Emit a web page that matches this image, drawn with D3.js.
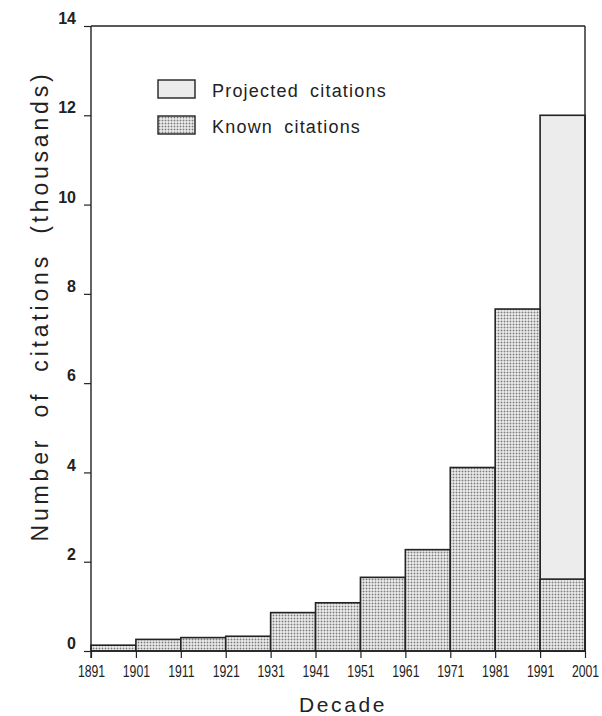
<!DOCTYPE html>
<html><head><meta charset="utf-8">
<script src="https://cdn.jsdelivr.net/npm/d3@7"></script>
<style>
html,body{margin:0;padding:0;background:#fff;}
svg{display:block;}
</style></head>
<body>
<script>
// Data
const decadeStarts = [1891,1901,1911,1921,1931,1941,1951,1961,1971,1981,1991];
const tickYears = [1891,1901,1911,1921,1931,1941,1951,1961,1971,1981,1991,2001];
const knownCitations = [0.13,0.26,0.30,0.33,0.86,1.08,1.65,2.27,4.11,7.66,1.61];
const projectedCitations = [null,null,null,null,null,null,null,null,null,null,12.0];
const yTicks = [0,2,4,6,8,10,12,14];
const legendLabels = ["Projected citations","Known citations"];

const W = 602, H = 716;
const m = {left:91, right:17, top:26, bottom:65};
const svg = d3.select("body").append("svg").attr("width",W).attr("height",H);

const defs = svg.append("defs");
const pat = defs.append("pattern").attr("id","dots").attr("patternUnits","userSpaceOnUse")
  .attr("width",3).attr("height",3);
pat.append("rect").attr("width",3).attr("height",3).attr("fill","#c4c4c4");
pat.append("rect").attr("x",1).attr("y",1).attr("width",2).attr("height",2).attr("fill","#e6e6e6");
pat.append("rect").attr("x",0).attr("y",0).attr("width",1).attr("height",1).attr("fill","#7a7a7a");

const x = d3.scaleLinear().domain([1891,2001]).range([m.left, W-m.right]);
const y = d3.scaleLinear().domain([0,14]).range([H-m.bottom, m.top]);

const g = svg.append("g");

g.selectAll("rect.proj").data(decadeStarts.map((d,i)=>({d,v:projectedCitations[i]})).filter(o=>o.v!=null))
 .enter().append("rect").attr("class","proj")
 .attr("x",o=>x(o.d)).attr("width",o=>x(o.d+10)-x(o.d))
 .attr("y",o=>y(o.v)).attr("height",o=>y(0)-y(o.v))
 .attr("fill","#ececec").attr("stroke","#222").attr("stroke-width",1.6);

g.selectAll("rect.known").data(decadeStarts.map((d,i)=>({d,v:knownCitations[i]})))
 .enter().append("rect").attr("class","known")
 .attr("x",o=>x(o.d)).attr("width",o=>x(o.d+10)-x(o.d))
 .attr("y",o=>y(o.v)).attr("height",o=>y(0)-y(o.v))
 .attr("fill","url(#dots)").attr("stroke","#222").attr("stroke-width",1.6);

g.append("line").attr("x1",m.left).attr("x2",W-m.right).attr("y1",m.top).attr("y2",m.top).attr("stroke","#222").attr("stroke-width",1.4);
g.append("line").attr("x1",W-m.right).attr("x2",W-m.right).attr("y1",m.top).attr("y2",y(0)).attr("stroke","#222").attr("stroke-width",1.4);

// y axis
const ya = d3.axisLeft(y).tickValues(yTicks).tickSize(7).tickPadding(8).tickFormat(d3.format("d"));
const yg = svg.append("g").attr("transform",`translate(${m.left},0)`).call(ya)
  .attr("font-size",null).attr("font-family",null);
yg.select(".domain").remove();
yg.append("line").attr("x1",0).attr("x2",0).attr("y1",m.top).attr("y2",y(0)+7).attr("stroke","#222").attr("stroke-width",1.4);
yg.selectAll(".tick line").attr("stroke","#222").attr("stroke-width",1.2);
yg.selectAll(".tick text").style("font-family","'Liberation Sans', Arial, sans-serif")
  .style("font-size","16px").style("font-weight","bold").attr("fill","#222").attr("dy","-0.15em");

// x axis
const xa = d3.axisBottom(x).tickValues(tickYears).tickSize(7).tickPadding(7).tickFormat(d3.format("d"));
const xg = svg.append("g").attr("transform",`translate(0,${y(0)})`).call(xa)
  .attr("font-size",null).attr("font-family",null);
xg.select(".domain").remove();
xg.append("line").attr("x1",m.left).attr("x2",W-m.right).attr("y1",0).attr("y2",0).attr("stroke","#222").attr("stroke-width",1.6);
xg.selectAll(".tick line").attr("stroke","#222").attr("stroke-width",1.2);
xg.selectAll(".tick text").style("font-family","'Liberation Sans', Arial, sans-serif")
  .style("font-size","17px").attr("fill","#222").attr("transform","scale(0.72,1)");

// axis titles
svg.append("text").attr("x",343).attr("y",712).attr("text-anchor","middle")
  .style("font-family","'Liberation Sans', Arial, sans-serif").style("font-size","21px").attr("fill","#222")
  .attr("letter-spacing",2.6).text("Decade");
svg.append("text").attr("transform",`translate(48,306) rotate(-90)`).attr("text-anchor","middle")
  .style("font-family","'Liberation Sans', Arial, sans-serif").style("font-size","23px").attr("fill","#222")
  .attr("letter-spacing",3.8).attr("word-spacing",9).text("Number of citations (thousands)");

// legend
const leg = svg.append("g");
const legFills = ["#ececec","url(#dots)"];
legendLabels.forEach((lab,i)=>{
  const yy = 80 + i*36;
  leg.append("rect").attr("x",158).attr("y",yy).attr("width",37).attr("height",18)
    .attr("fill",legFills[i]).attr("stroke","#222").attr("stroke-width",1.4);
  leg.append("text").attr("x",212).attr("y",yy+17).style("font-family","'Liberation Sans', Arial, sans-serif")
    .style("font-size","18px").attr("fill","#222").attr("letter-spacing",1.2).attr("word-spacing",5).text(lab);
});
</script>
</body></html>
